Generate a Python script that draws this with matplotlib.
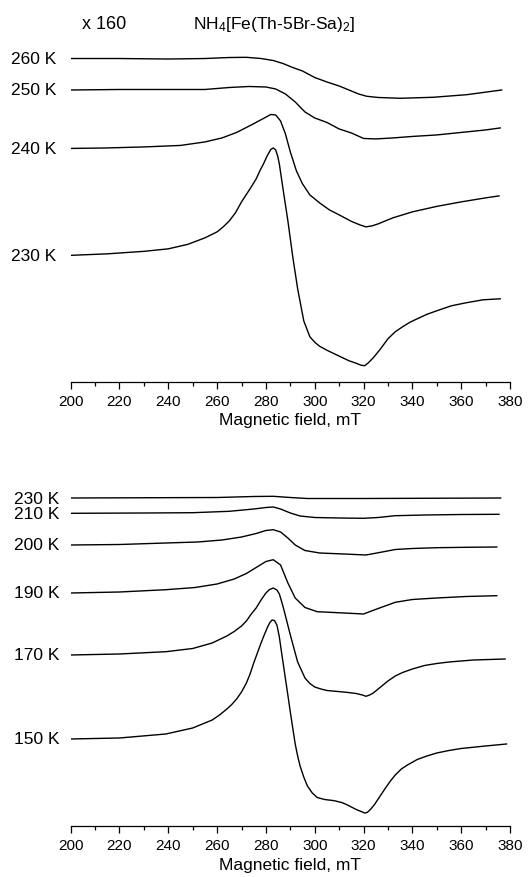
import numpy as np
import matplotlib
matplotlib.use("Agg")
import matplotlib.pyplot as plt

plt.rcParams['font.family'] = ['Liberation Sans', 'DejaVu Sans']
plt.rcParams['mathtext.default'] = 'regular'

# ---- upper panel (x 160), intensity in arbitrary units ----
f260 = [200, 220, 240, 255, 265, 272, 278, 283, 287, 291, 295, 300, 305, 310, 314.5,
        318, 321.3, 326, 335, 348.5, 362.3, 376.6]
s260 = [323.5, 323.5, 323, 323.5, 324.5, 324.7, 323.5, 321.5, 318.5, 314.5, 311, 304.5,
        300, 296, 291.5, 288, 285.7, 284.5, 283.7, 284.7, 287.3, 292]

f250 = [200, 220, 240, 255, 265, 273, 280, 284, 288, 292, 296, 300, 305, 310, 315, 320,
        325, 332, 340, 350, 360, 370, 376]
s250 = [292, 292.5, 292.5, 292.5, 294.5, 295.5, 295, 293, 288, 280, 270, 264, 259.5, 253,
        249, 243.5, 243, 244, 245.5, 247, 249.5, 252, 254]

f240 = [200, 215, 230, 245, 255, 262, 268, 274, 279, 282, 284, 286, 288, 290, 292.5, 295,
        298, 302, 306, 310, 315, 318.5, 321, 323.5, 326, 332, 340, 350, 360, 370, 375.5]
s240 = [233.5, 234, 235, 236.5, 240, 244, 249.5, 257, 263.5, 267.5, 267, 261, 248, 230,
        211, 198, 187, 179, 172, 167, 160.5, 157, 155, 156, 158, 164, 170, 175.5, 180,
        184, 186]

f230 = [200, 215, 230, 240, 248, 255, 260, 262.5, 265, 267.5, 270, 272, 274, 276, 277.5,
        279, 280.5, 282, 283, 284, 284.8, 285.5, 287, 289, 291, 293, 295.5, 298, 300, 302,
        305, 308, 311, 314, 317, 319, 320.5, 322, 324, 327, 330, 333, 336, 339, 342, 346,
        350, 356, 362, 369, 376]
s230 = [126.5, 128, 130.5, 133, 137.5, 144, 150, 155, 161, 169, 180, 187.5, 195, 203, 211,
        218, 226, 232.5, 234, 232, 226, 218, 193, 161, 125, 93, 61, 45, 39.5, 35.5, 31.5,
        28, 24.5, 21, 18.5, 16.5, 16, 19, 24, 33, 43, 50, 55, 59.5, 63, 67.5, 71, 76, 79,
        82, 83]

top_fields = [f260, f250, f240, f230]
top_signals = [s260, s250, s240, s230]
top_labels = ['260 K', '250 K', '240 K', '230 K']

# ---- lower panel ----
g230 = [200, 260, 275, 283, 290, 297, 320, 376.2]
b230 = [328, 328.5, 329.5, 329.7, 328.5, 327.5, 327.5, 328]

g210 = [200, 230, 250, 265, 275, 280, 283, 286, 290, 294, 300, 310, 320, 326, 333, 345,
        360, 375.5]
b210 = [312.7, 313, 313.3, 314.7, 317, 318.5, 319, 317, 313, 310, 308.5, 308, 307.7,
        308.5, 310.3, 311, 311.5, 311.7]

g200 = [200, 220, 239, 252, 262, 270, 276, 280, 283, 286, 289, 292, 296, 302, 312, 321,
        327, 333, 340, 350, 362, 374.6]
b200 = [281, 281.5, 283, 284, 286, 289, 292.5, 295.5, 296.3, 294, 288, 281, 275.5, 273,
        272, 271, 273.7, 276.5, 277.5, 278.3, 278.7, 279]

g190 = [200, 220, 239, 251, 260, 267, 272, 276, 280, 283, 286, 289, 292, 296, 301, 312,
        320, 326, 333, 340, 350, 362, 374.6]
b190 = [233, 234, 236.3, 238.5, 242, 247, 252.5, 258.5, 264.5, 266.3, 261, 243, 228,
        218.5, 214.3, 213, 212, 217.5, 223.7, 226.5, 228, 229.5, 230.3]

g170 = [200, 220, 239, 250, 258, 264, 267, 270, 272, 274, 276, 278, 280, 281.5, 283,
        284.5, 285.5, 286.5, 287.5, 290, 293, 296, 298, 300, 302.5, 305, 313, 317, 319.5,
        321, 322.5, 324, 327, 330, 333, 336, 340, 345, 350, 355, 365, 378]
b170 = [171, 172, 174.3, 177.5, 183, 190, 194.5, 200, 205, 212, 218, 226, 233, 236.5, 238,
        236, 232, 224, 215, 191, 164, 148, 142.5, 139, 137, 135.5, 133.7, 132.5, 131,
        129.7, 131, 133, 139, 145, 150, 153.5, 157, 160.5, 162.5, 164, 166, 167]

g150 = [200, 220, 239, 250, 258, 261, 264, 266, 268, 270, 272, 273.5, 275, 276.5, 278,
        279.3, 280.5, 281.5, 282.5, 283.5, 284.5, 285.5, 286.5, 288.5, 290.3, 292, 293,
        294, 295.5, 297, 299, 301, 304, 308, 311, 313, 315, 317, 319, 320.5, 321.5, 323,
        324.5, 326, 329, 331, 333, 335.5, 338, 342, 346, 350, 355, 360, 370, 378.6]
b150 = [87, 88, 92, 98, 106, 111, 117, 121.5, 127, 134, 143, 152, 163, 173, 183, 191, 198,
        203, 206, 205.5, 201, 189, 172, 139, 109, 82, 70, 60, 49, 40, 33, 28.5, 26.5, 25.3,
        23.5, 21.5, 19, 16.5, 14.5, 13, 13.5, 17, 21.5, 27, 38, 45, 51, 57, 61, 66.5, 70,
        73, 75.5, 77.5, 80, 82]

bot_fields = [g230, g210, g200, g190, g170, g150]
bot_signals = [b230, b210, b200, b190, b170, b150]
bot_labels = ['230 K', '210 K', '200 K', '190 K', '170 K', '150 K']

ticks_major = np.arange(200, 381, 20)
ticks_minor = np.arange(210, 380, 20)


def style_axis(ax, ytop):
    ax.set_xlim(200, 380)
    ax.set_ylim(0, ytop)
    for side in ['left', 'right', 'top']:
        ax.spines[side].set_visible(False)
    ax.spines['bottom'].set_linewidth(0.9)
    ax.set_yticks([])
    ax.set_xticks(ticks_major)
    ax.set_xticks(ticks_minor, minor=True)
    ax.tick_params(axis='x', which='major', direction='out', length=5, width=0.9,
                   labelsize=11, pad=4)
    ax.tick_params(axis='x', which='minor', direction='out', length=3, width=0.9)
    ax.set_xlabel('Magnetic field, mT', fontsize=12.5, labelpad=3)


fig = plt.figure(figsize=(5.31, 8.78), dpi=100)
ax1 = fig.add_axes([0.1331, 0.5641, 0.8273, 0.3903])
ax2 = fig.add_axes([0.1331, 0.0581, 0.8273, 0.3952])

for f, s, lab in zip(top_fields, top_signals, top_labels):
    ax1.plot(f, s, color='black', lw=1.0)
    ax1.text(194.2, s[0], lab, ha='right', va='center', fontsize=12.5, clip_on=False)
style_axis(ax1, 343)
ax1.text(204.6, 359, 'x 160', ha='left', va='center', fontsize=13, clip_on=False)
ax1.text(250.3, 359, 'NH$_4$[Fe(Th-5Br-Sa)$_2$]', ha='left', va='center', fontsize=12.5,
         clip_on=False)

for f, s, lab in zip(bot_fields, bot_signals, bot_labels):
    ax2.plot(f, s, color='black', lw=1.0)
    ax2.text(195.3, s[0], lab, ha='right', va='center', fontsize=12.5, clip_on=False)
style_axis(ax2, 347)

fig.savefig('out.png', dpi=100)
